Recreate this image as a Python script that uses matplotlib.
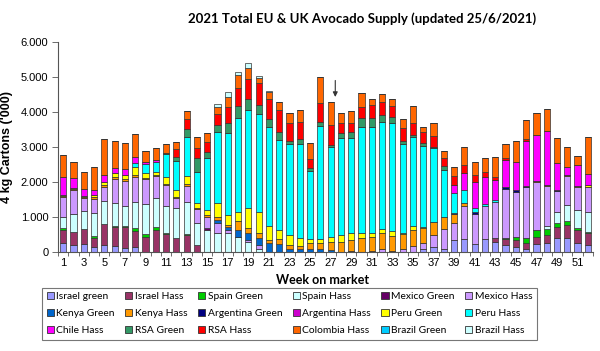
import numpy as np
import matplotlib
matplotlib.use("Agg")
import matplotlib.pyplot as plt
from matplotlib.ticker import FuncFormatter, FixedLocator
from matplotlib.patches import Patch

weeks = list(range(1, 53))
title = "2021 Total EU & UK Avocado Supply (updated 25/6/2021)"
ylabel = "4 kg Cartons ('000)"
xlabel = "Week on market"

israel_green = [265,200,220,130,190,170,120,130,0,0, 0,0,0,0,0,0,0,0,0,0, 0,0,0,0,0,0,0,0,0,0, 0,0,0,0,0,100,150,100,340,370, 230,360,300,200,150,100,230,270,390,390, 270,200]
israel_hass = [365,360,430,280,600,535,585,480,420,630, 515,390,485,200,0,0,0,0,0,0, 0,0,0,0,0,0,0,0,0,0, 0,0,0,0,0,0,0,0,0,0, 0,0,110,160,190,165,210,215,330,380, 360,330]
spain_green = [50,20,20,40,20,35,45,80,85,90, 35,0,20,0,0,0,0,0,0,0, 0,0,0,0,0,0,0,0,0,0, 0,0,0,0,0,0,0,0,0,0, 0,0,0,40,100,125,190,165,100,130, 60,50]
spain_hass = [330,505,500,670,650,650,570,750,865,810, 760,880,935,620,630,550,530,440,300,100, 0,0,0,0,0,0,0,0,0,0, 0,0,0,0,0,0,0,0,0,0, 0,0,0,0,0,0,0,90,310,440, 510,570]
mexico_green = [0,0,0,0,0,0,0,0,0,0, 0,0,0,0,50,0,0,0,0,0, 0,0,0,0,0,0,0,0,30,0, 0,0,40,0,0,0,0,0,0,0, 0,0,0,0,0,0,0,0,0,0, 0,0]
mexico_hass = [550,685,380,400,410,690,710,710,710,640, 600,260,450,400,330,270,100,0,40,100, 0,0,0,0,0,0,0,0,0,0, 40,75,0,75,170,150,335,550,500,950, 870,950,1030,1390,1280,1460,1380,1150,620,830, 650,700]
kenya_green = [0,0,0,0,0,0,0,0,0,0, 0,0,0,0,0,95,90,190,190,210, 270,230,100,75,75,75,60,0,0,0, 0,0,0,0,0,0,0,0,0,0, 0,0,0,0,0,0,0,0,0,0, 0,0]
kenya_hass = [30,30,20,40,40,50,50,40,40,30, 30,40,40,50,60,95,50,270,150,140, 70,130,100,95,190,190,240,300,310,410, 380,455,430,440,460,450,385,340,245,80, 0,0,0,0,0,0,30,30,0,30, 30,0]
argentina_green = [0,0,0,0,0,0,0,0,0,0, 0,0,0,0,0,0,0,0,0,0, 0,0,0,0,0,0,0,0,0,0, 0,0,0,0,0,0,0,0,20,0, 30,0,0,60,50,40,0,0,30,0, 0,0]
argentina_hass = [0] * 52
peru_green = [50,40,30,70,80,120,120,250,150,100, 190,200,240,120,120,380,290,250,570,580, 400,270,285,220,95,95,140,185,210,140, 130,120,130,20,110,20,0,0,0,0, 0,0,0,0,0,0,0,0,0,0, 0,60]
peru_hass = [0,0,0,0,0,0,0,90,240,280, 670,830,1110,910,1490,2050,2330,2670,2810,2800, 2840,2570,2605,2700,1960,3250,2550,2765,2700,3010, 3030,3070,3100,2565,2540,2310,2090,1350,575,370, 120,60,50,0,0,0,0,0,0,0, 0,0]
chile_hass = [490,280,190,140,210,140,170,190,50,60, 0,0,0,0,0,0,0,0,0,0, 0,0,0,0,0,0,0,0,0,0, 0,0,0,0,0,0,0,0,230,500, 760,760,570,780,810,1290,1300,1540,770,240, 610,320]
rsa_green = [0,0,0,0,0,0,0,0,0,0, 40,120,240,380,190,190,300,350,300,270, 210,240,90,130,70,110,70,160,170,260, 240,190,150,80,60,90,50,120,0,0, 0,0,0,0,0,0,0,0,0,0, 0,0]
rsa_hass = [0,0,0,0,0,0,0,0,0,0, 0,210,280,280,280,310,460,520,570,620, 570,620,520,500,260,530,570,290,280,310, 370,390,330,350,360,320,300,220,260,230, 190,160,70,50,0,40,0,0,0,0, 0,0]
colombia_hass = [640,450,490,670,1020,790,750,640,340,340, 240,210,240,320,240,210,290,370,320,140, 200,240,280,340,470,740,670,280,340,400, 170,210,180,270,480,140,370,210,270,510, 380,390,590,410,600,550,620,620,700,570, 250,1050]
brazil_green = [0] * 52
brazil_hass = [0,0,0,0,0,0,0,0,0,0, 0,0,0,0,0,80,140,80,140,70, 50,0,0,0,0,0,0,0,0,0, 0,0,0,0,0,0,0,0,0,0, 0,0,0,0,0,0,0,0,0,0, 0,0]

series_names = ["Israel green", "Israel Hass", "Spain Green", "Spain Hass", "Mexico Green", "Mexico Hass",
                "Kenya Green", "Kenya Hass", "Argentina Green", "Argentina Hass", "Peru Green", "Peru Hass",
                "Chile Hass", "RSA Green", "RSA Hass", "Colombia Hass", "Brazil Green", "Brazil Hass"]
series_values = [israel_green, israel_hass, spain_green, spain_hass, mexico_green, mexico_hass,
                 kenya_green, kenya_hass, argentina_green, argentina_hass, peru_green, peru_hass,
                 chile_hass, rsa_green, rsa_hass, colombia_hass, brazil_green, brazil_hass]
colors = ["#9999FF", "#993366", "#00CC00", "#CCFFFF", "#660066", "#CC99FF",
          "#0066CC", "#FF9900", "#000080", "#CC00CC", "#FFFF00", "#00FFFF",
          "#FF00FF", "#339966", "#FF0000", "#FF6600", "#00CCFF", "#CCFFFF"]

arrow_week = 27.45
arrow_from, arrow_to = 4980, 4350

fig = plt.figure(figsize=(6.0, 3.51), dpi=100)
ax = fig.add_axes([58/600, 1-252/351, (593-58)/600, (252-42)/351])

x = np.array(weeks, dtype=float)
bottom = np.zeros(len(weeks))
handles = []
for name, vals, c in zip(series_names, series_values, colors):
    v = np.array(vals, dtype=float)
    ax.bar(x, v, width=0.6, bottom=bottom, color=c, edgecolor="#333333", linewidth=0.5)
    bottom += v
    handles.append(Patch(facecolor=c, edgecolor="#333333", linewidth=0.6, label=name))

ax.set_xlim(0.5, 52.5)
ax.set_ylim(0, 6000)
ax.set_yticks(np.arange(0, 6001, 1000))
ax.yaxis.set_major_formatter(FuncFormatter(lambda v, p: "0" if v == 0 else f"{int(v):,}".replace(",", ".")))
ax.set_xticks(weeks[::2])
ax.set_xticklabels([str(w) for w in weeks[::2]])
ax.xaxis.set_minor_locator(FixedLocator(np.arange(0.5, 53, 1)))
ax.tick_params(axis="x", which="major", length=0, labelsize=8, pad=4)
ax.tick_params(axis="x", which="minor", length=3, width=0.6, direction="out", color="#555555")
ax.tick_params(axis="y", length=4, width=0.6, direction="out", labelsize=8, color="#555555", pad=3)
for lab in ax.get_xticklabels() + ax.get_yticklabels():
    lab.set_fontfamily(["Liberation Sans", "DejaVu Sans"])
for s in ["top", "right"]:
    ax.spines[s].set_visible(False)
for s in ["left", "bottom"]:
    ax.spines[s].set_color("#555555")
    ax.spines[s].set_linewidth(0.8)

ax.set_ylabel(ylabel, fontsize=9, fontweight="bold", family=["Liberation Sans"])
ax.yaxis.set_label_coords((13 - 58) / (593 - 58), 0.5)
fig.text(323/600, 1-280/351, xlabel, ha="center", va="center", fontsize=9, fontweight="bold", family=["Lato", "DejaVu Sans"])
fig.text(362/600, 1-19/351, title, ha="center", va="center", fontsize=9.5, fontweight="bold", family=["Lato", "DejaVu Sans"])

ax.annotate("", xy=(arrow_week, arrow_to), xytext=(arrow_week, arrow_from),
            arrowprops=dict(arrowstyle="-|>", color="#333333", lw=0.8, mutation_scale=7))

ncol = 6
nrow = 3
order = [r * ncol + c for c in range(ncol) for r in range(nrow)]
leg = fig.legend([handles[i] for i in order], [series_names[i] for i in order],
                 ncol=ncol, loc="upper left",
                 bbox_to_anchor=(42/600, 1-288/351, (537-42)/600, 0.001), mode="expand",
                 frameon=True, fancybox=False, edgecolor="#555555",
                 handlelength=0.7, handleheight=0.7, handletextpad=0.25, borderaxespad=0,
                 labelspacing=0.75, borderpad=0.45, columnspacing=0.4,
                 prop={"family": ["Lato", "DejaVu Sans"], "size": 7.4})
leg.get_frame().set_linewidth(0.8)

fig.savefig("out.png", dpi=100)
